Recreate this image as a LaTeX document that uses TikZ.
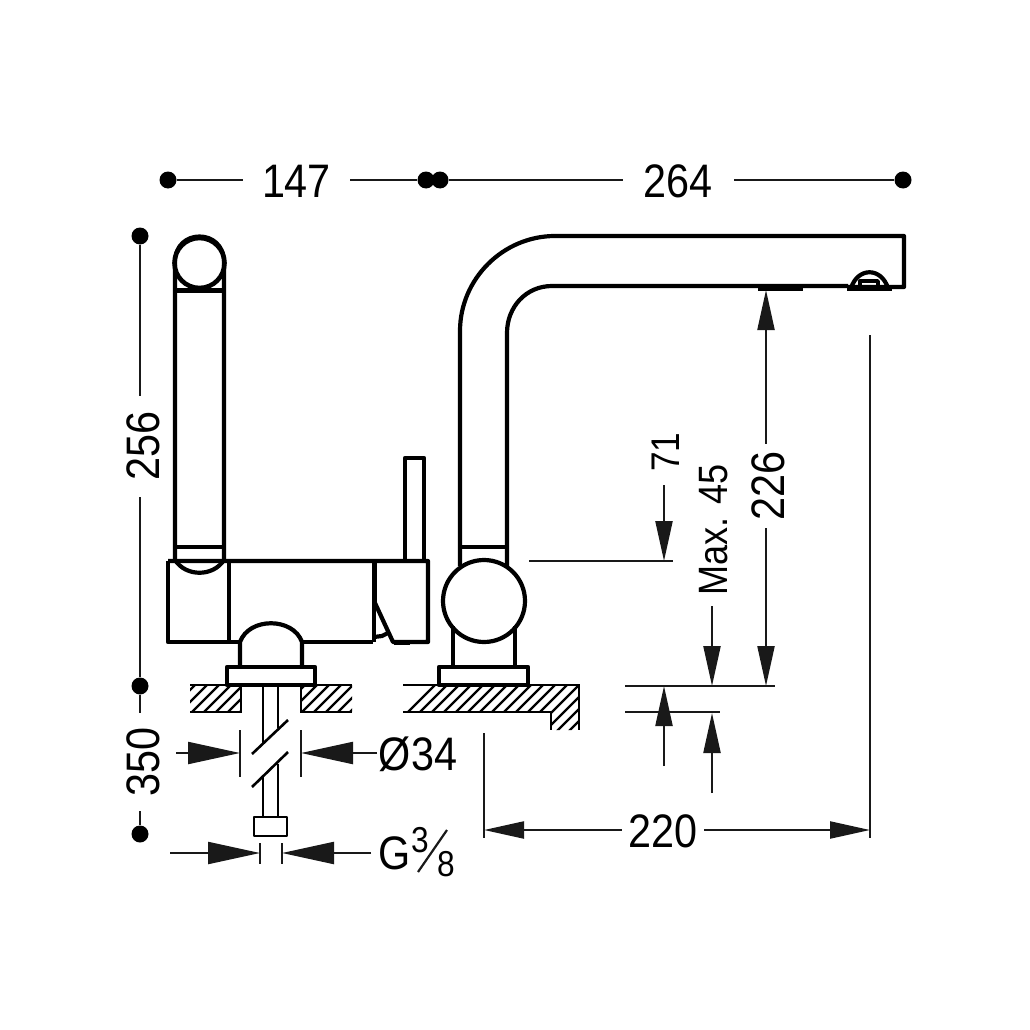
\documentclass[tikz,border=0pt]{standalone}
\usepackage{fontspec}
\setmainfont[FakeStretch=0.88]{Liberation Sans}
\usetikzlibrary{arrows.meta}
\begin{document}
\begin{tikzpicture}[x=1pt,y=-1pt,
main line/.style={line width=4.2pt,line join=round},
dim line/.style={line width=2.2pt,draw=black!90},
dim arrow/.style={dim line,>={Triangle[length=40pt,width=17pt]}},
big arrow/.style={dim line,>={Triangle[length=52pt,width=22pt]}},
dim dot/.style={circle,fill=black,minimum size=17pt,inner sep=0pt},
dim label/.style={font=\fontsize{47}{50}\selectfont,inner sep=0pt,fill=white,minimum height=36pt},
small label/.style={font=\fontsize{36}{38}\selectfont,inner sep=0pt},
hatch line/.style={line width=2.4pt}]
\useasboundingbox (0,0) rectangle (1030,1030);
% dimension dots
\node[dim dot] (a1) at (168,180) {};
\node[dim dot] (a2) at (426,180) {};
\node[dim dot] (b1) at (440,180) {};
\node[dim dot] (b2) at (903,180) {};
\node[dim dot] (c1) at (140,236) {};
\node[dim dot] (c2) at (140,686) {};
\node[dim dot] (c3) at (140,834) {};
\draw[dim line] (a1) -- (a2);
\draw[dim line] (b1) -- (b2);
\draw[dim line] (c1) -- (c2);
\draw[dim line] (c2) -- (c3);
\node[dim label,minimum width=107pt] (l147) at (296.5,181) {147};
\node[dim label,minimum width=111pt] (l264) at (678,181) {264};
\node[dim label,rotate=90,minimum width=101pt] (l256) at (143,446) {256};
\node[dim label,rotate=90,minimum width=98pt] (l350) at (143,761.5) {350};
% left view
\begin{scope}[main line]
\draw (175,560) -- (175,262) .. controls (175,228) and (224,228) .. (224,262) -- (224,560);
\node[draw,circle,minimum size=50pt,inner sep=0pt,line width=4.6pt] (knob) at (199.5,263) {};
\draw[line width=5pt] (175,290) -- (224,290);
\draw (175,547) -- (224,547);
\draw (405,560) -- (405,458) -- (424,458) -- (424,560);
\draw (168,561) -- (428,561) -- (428,642) -- (393,642) -- (375,603);
\draw (168,561) -- (168,642) -- (240,642);
\draw (302,642) -- (373,642);
\draw (175,560) .. controls (186,577) and (213,577) .. (224,560);
\draw (229,561) -- (229,642);
\draw[line width=5pt] (374,561) -- (374,606);
\draw (374,606) -- (374,642);
\draw (374,637) -- (382,636) -- (388,633);
\draw[line width=5pt] (394,642) -- (410,642);
\draw (240,667) -- (240,642) .. controls (249,617) and (293,617) .. (302,642) -- (302,667);
\node[draw,line width=4.2pt,minimum width=88pt,minimum height=18pt,inner sep=0pt] (plate1) at (271,676) {};
% pipe
\draw[line width=2.6pt] (263,686) -- (263,743);
\draw[line width=2.6pt] (278,686) -- (278,728);
\draw[line width=2.6pt] (252,754) -- (288,720);
\draw[line width=2.6pt] (252,787) -- (288,752);
\draw[line width=2.6pt] (263,777) -- (263,817);
\draw[line width=2.6pt] (278,764) -- (278,817);
\node[draw,line width=2.8pt,minimum width=33pt,minimum height=19pt,inner sep=0pt] (nut) at (270.5,826.5) {};
\end{scope}
% right view
\begin{scope}[main line]
\draw (460,566) -- (460,331) .. controls (460,279) and (503,236) .. (555,236) -- (904,236) -- (904,287) -- (848,287);
\draw (507,566) -- (507,333) .. controls (507,307) and (526,286) .. (552,286) -- (848,286);
\draw (460,547) -- (507,547);
\node[draw,circle,minimum size=82pt,inner sep=0pt,line width=4.2pt,fill=white] (ball) at (484,601) {};
\draw (453,626) -- (453,667);
\draw (515,626) -- (515,667);
\node[draw,line width=4.2pt,minimum width=89pt,minimum height=18pt,inner sep=0pt] (plate2) at (483.5,676) {};
\draw[line width=5pt] (758,288) -- (803,288);
\draw[line width=5pt] (847,288.5) -- (892,288.5);
\draw (851,288) .. controls (858,267) and (881,267) .. (888,288);
\draw[line width=3.4pt] (860,288) -- (860,281) -- (878,281) -- (878,288);
\end{scope}
% counter tops
\begin{scope}
\clip (190,685) rectangle (241,712);
\foreach \x in {160,172,...,280} {\draw[hatch line] (\x,720) -- (\x+45,675);}
\end{scope}
\begin{scope}
\clip (301,685) rectangle (352,712);
\foreach \x in {270,282,...,390} {\draw[hatch line] (\x,720) -- (\x+45,675);}
\end{scope}
\begin{scope}
\clip (403,685) -- (579,685) -- (579,730) -- (551,730) -- (551,712) -- (403,712) -- cycle;
\foreach \x in {380,392,...,600} {\draw[hatch line] (\x,740) -- (\x+65,675);}
\end{scope}
\draw[hatch line] (190,685) -- (241,685) -- (241,712) -- (190,712);
\draw[hatch line] (352,685) -- (301,685) -- (301,712) -- (352,712);
\draw[hatch line] (403,685) -- (579,685) -- (579,730);
\draw[hatch line] (403,712) -- (551,712) -- (551,730);
% pipe sizes
\coordinate (d1) at (176,753);
\coordinate (d2) at (377,753);
\coordinate (d3) at (240,753);
\coordinate (d4) at (301,753);
\coordinate (g1) at (170,853);
\coordinate (g2) at (371,853);
\coordinate (g3) at (260,853);
\coordinate (g4) at (282,853);
\draw[big arrow,->] (d1) -- (d3);
\draw[big arrow,->] (d2) -- (d4);
\draw[big arrow,->] (g1) -- (g3);
\draw[big arrow,->] (g2) -- (g4);
\draw[dim line] (240,730) -- (240,777);
\draw[dim line] (301,730) -- (301,777);
\draw[dim line] (260,843) -- (260,864);
\draw[dim line] (282,843) -- (282,864);
\node[dim label,fill=none] (l34) at (418,754) {Ø34};
\node[dim label,fill=none] (lg) at (395,853) {G};
\node[small label] (l3) at (420,840) {3};
\node[small label] (l8) at (446,864) {8};
\draw[dim line] (418,872) -- (447,830);
% height dimensions
\coordinate (r1) at (529,561);
\coordinate (r2) at (673,561);
\coordinate (r3) at (625,686);
\coordinate (r4) at (775,686);
\coordinate (r5) at (625,712);
\coordinate (r6) at (720,712);
\draw[dim line] (r1) -- (r2);
\draw[dim line] (r3) -- (r4);
\draw[dim line] (r5) -- (r6);
\coordinate (h1) at (766,290);
\coordinate (h2) at (766,686);
\draw[dim arrow,<->] (h1) -- (h2);
\node[dim label,rotate=90,minimum width=84pt] (l226) at (768,485.5) {226};
\coordinate (s1) at (664,485);
\coordinate (s2) at (664,561);
\draw[dim arrow,->] (s1) -- (s2);
\node[dim label,fill=none,font=\fontsize{40}{42}\selectfont,rotate=90] (l71) at (666,452) {71};
\coordinate (m1) at (712,606);
\coordinate (m2) at (712,686);
\draw[dim arrow,->] (m1) -- (m2);
\node[dim label,fill=none,font=\fontsize{41}{43}\selectfont,rotate=90] (lmax) at (714,530) {Max. 45};
\coordinate (u1) at (664,766);
\coordinate (u2) at (664,686);
\draw[dim arrow,->] (u1) -- (u2);
\coordinate (v1) at (712,793);
\coordinate (v2) at (712,713);
\draw[dim arrow,->] (v1) -- (v2);
% spout reach
\coordinate (w1) at (484,733);
\coordinate (w2) at (484,838);
\coordinate (w3) at (870,335);
\coordinate (w4) at (870,838);
\draw[dim line] (w1) -- (w2);
\draw[dim line] (w3) -- (w4);
\coordinate (w5) at (484,830);
\coordinate (w6) at (870,830);
\draw[dim arrow,<->] (w5) -- (w6);
\node[dim label,minimum width=82pt] (l220) at (663,831) {220};
\end{tikzpicture}
\end{document}
